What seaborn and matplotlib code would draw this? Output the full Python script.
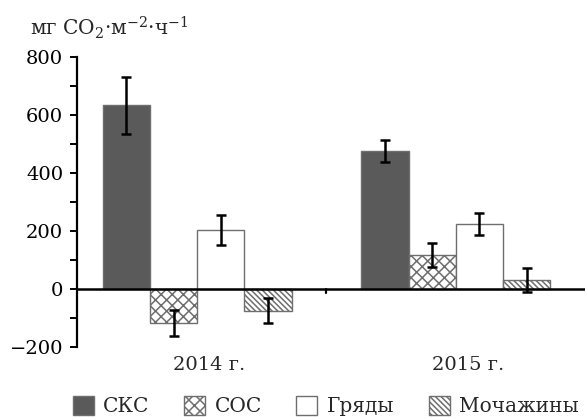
import pandas as pd
import matplotlib.pyplot as plt
import matplotlib.transforms as mtransforms
import seaborn as sns

years = ['2014 г.', '2015 г.']
types = ['СКС', 'СОС', 'Гряды', 'Мочажины']
vals_2014 = [634, -120, 204, -76]
vals_2015 = [476, 116, 225, 31]
err_2014 = [98, 45, 52, 44]
err_2015 = [38, 41, 38, 42]

colors = ['#5a5a5a', 'white', 'white', 'white']
hatches = ['', 'xxx', '', '\\\\\\\\\\\\']

df = pd.DataFrame({
    'year': [years[0]] * 4 + [years[1]] * 4,
    'type': types * 2,
    'value': vals_2014 + vals_2015,
    'err': err_2014 + err_2015,
})

sns.set_style('white')
plt.rcParams['font.family'] = ['DejaVu Serif']
plt.rcParams['mathtext.fontset'] = 'dejavuserif'
plt.rcParams['hatch.color'] = '#333333'
plt.rcParams['hatch.linewidth'] = 1.1

fig = plt.figure(figsize=(5.85, 4.19), dpi=100)
ax = fig.add_axes([0.1316, 0.173, 0.8684, 0.69])

sns.barplot(data=df, x='year', y='value', hue='type', hue_order=types,
            palette=colors, width=0.73, edgecolor='#6e6e6e', linewidth=1.0,
            errorbar=None, legend=False, ax=ax)

handles = []
for cont, h, t in zip(ax.containers, hatches, types):
    errs = df[df['type'] == t]['err'].values
    xs, ys = [], []
    for p in cont:
        p.set_hatch(h)
        xs.append(p.get_x() + p.get_width() / 2)
        ys.append(p.get_height())
    ax.errorbar(xs, ys, yerr=errs, fmt='none', ecolor='black',
                elinewidth=1.8, capsize=3.3, capthick=1.8, zorder=5)
    handles.append(cont[0])

ax.set_ylim(-200, 800)
ax.set_xlim(-0.465, 1.5)
ax.set_yticks([-200, 0, 200, 400, 600, 800])
ax.set_yticklabels(['−200', '0', '200', '400', '600', '800'])
ax.set_yticks(range(-100, 800, 200), minor=True)
ax.tick_params(axis='y', which='both', direction='out', length=5, width=1.4,
               left=True, labelsize=14, colors='black', pad=5)
ax.tick_params(axis='x', length=0, labelsize=14, pad=7)
ax.set_xlabel('')
ax.set_ylabel('')

# labels sit a little right of the group centres in the original
offset = mtransforms.ScaledTranslation(0.12, 0, fig.dpi_scale_trans)
for lab in ax.get_xticklabels():
    lab.set_transform(lab.get_transform() + offset)

for s in ['top', 'right', 'bottom']:
    ax.spines[s].set_visible(False)
ax.spines['left'].set_linewidth(1.6)
ax.spines['left'].set_color('black')
ax.axhline(0, color='black', linewidth=1.8, zorder=6, clip_on=False)
ax.plot([0.5, 0.5], [0, -15], color='black', linewidth=1.6, zorder=6)

fig.text(0.051, 0.915, r'мг CO$_2$·м$^{-2}$·ч$^{-1}$', fontsize=14.5, va='baseline')

fig.legend(handles=handles, labels=types, loc='center',
           bbox_to_anchor=(0.557, 0.031), ncol=4, frameon=False, fontsize=14.5,
           handlelength=1.05, handleheight=1.05, handletextpad=0.45,
           columnspacing=1.72, borderpad=0)

fig.savefig('out.png', dpi=100)
